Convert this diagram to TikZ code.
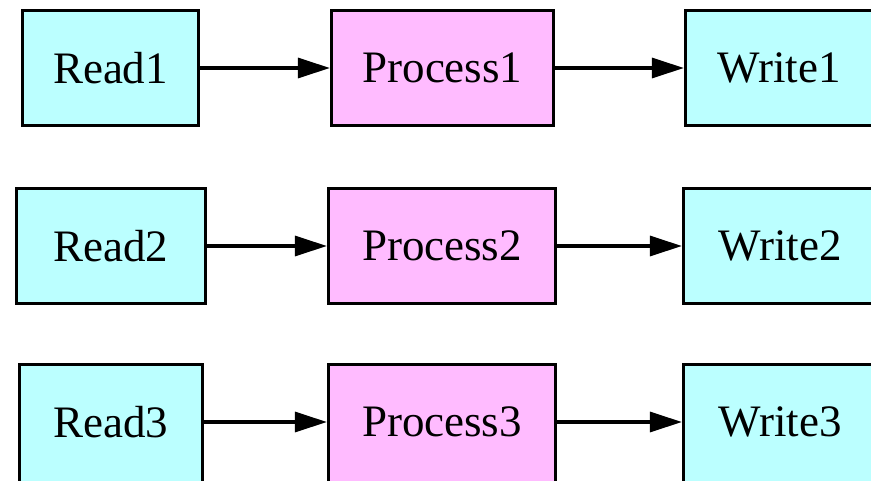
\documentclass[tikz,border=0pt]{standalone}
\usepackage{fontspec}
\setmainfont{Liberation Serif}
\usetikzlibrary{arrows.meta}
\definecolor{readc}{HTML}{BBFFFF}
\definecolor{procc}{HTML}{FFBBFF}
\begin{document}
\begin{tikzpicture}[x=1pt,y=-1pt,
  box/.style={draw=black,line width=3.2pt,inner sep=0pt,minimum height=115pt,
    font=\fontsize{45}{45}\selectfont},
  rbox/.style={box,fill=readc},
  pbox/.style={box,fill=procc},
  tall/.style={minimum height=125pt,text depth=10pt},
  arr/.style={line width=3.2pt,-{Triangle[length=32pt,width=20pt]}}]
\useasboundingbox (0,0) rectangle (871,480);
\clip (0,0) rectangle (871,480);
% row 1
\node[rbox,minimum width=176pt] (r1) at (110.5,68) {Read1};
\node[pbox,minimum width=222pt] (p1) at (442.5,68) {Process1};
\node[rbox,minimum width=187pt] (w1) at (779,68) {Write1};
% row 2
\node[rbox,minimum width=189pt] (r2) at (111,246) {Read2};
\node[pbox,minimum width=227pt] (p2) at (442,246) {Process2};
\node[rbox,minimum width=193pt] (w2) at (780,246) {Write2};
% row 3 (cut by the lower edge)
\node[rbox,tall,minimum width=183pt] (r3) at (111,427) {Read3};
\node[pbox,tall,minimum width=227pt] (p3) at (442,427) {Process3};
\node[rbox,tall,minimum width=193pt] (w3) at (780,427) {Write3};
\coordinate (a3) at (0,422);
\draw[arr] (r1) -- (p1);
\draw[arr] (p1) -- (w1);
\draw[arr] (r2) -- (p2);
\draw[arr] (p2) -- (w2);
\draw[arr] (r3.east |- a3) -- (p3.west |- a3);
\draw[arr] (p3.east |- a3) -- (w3.west |- a3);
\end{tikzpicture}
\end{document}
